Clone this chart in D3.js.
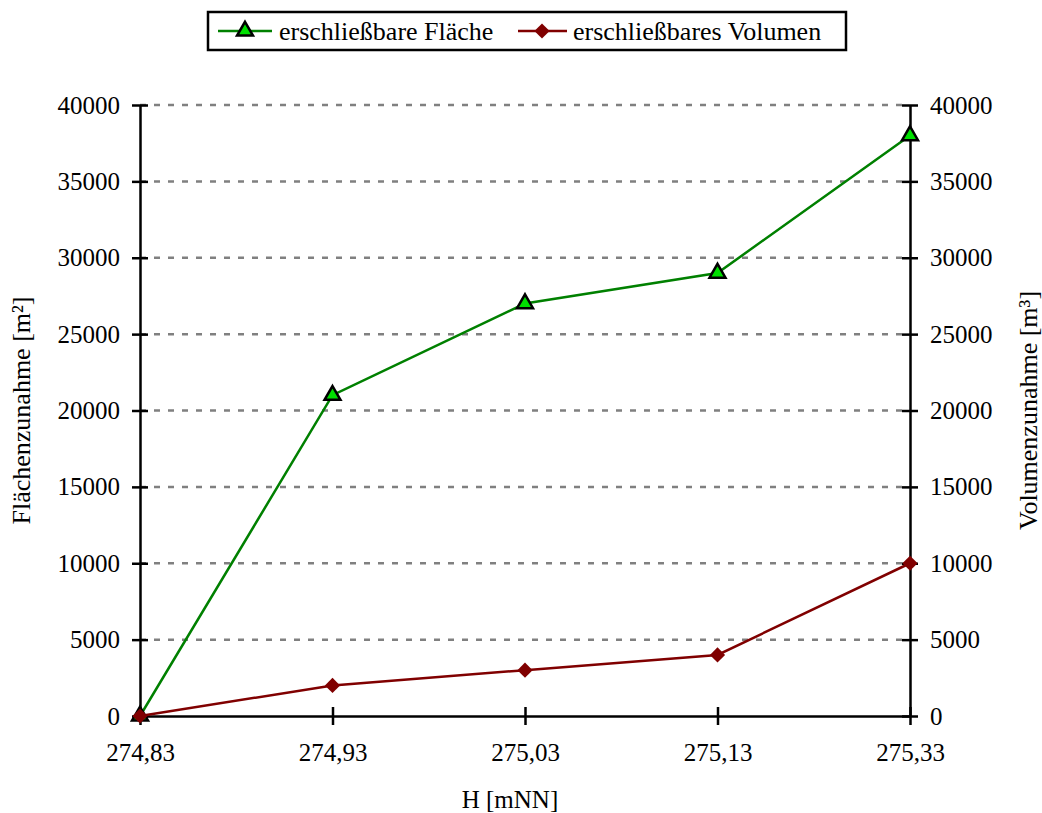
<!DOCTYPE html>
<html>
<head>
<meta charset="utf-8">
<script src="https://cdn.jsdelivr.net/npm/d3@7"></script>
<style>
  body { margin: 0; background: #fff; }
  svg text { font-family: "Liberation Serif", "Times New Roman", serif !important; fill: #000; }
</style>
</head>
<body>
<div id="chart"></div>
<script>
// data
var heights = ["274,83", "274,93", "275,03", "275,13", "275,33"];
var flaeche = [0, 21000, 27000, 29000, 38000];
var volumen = [0, 2000, 3000, 4000, 10000];
var yTicks = [0, 5000, 10000, 15000, 20000, 25000, 30000, 35000, 40000];

var svgWidth = 1042;
var svgHeight = 813;

var margin = { top: 105, right: 132, bottom: 97, left: 140 };
var chartWidth = svgWidth - margin.left - margin.right;
var chartHeight = svgHeight - margin.top - margin.bottom;

var svg = d3.select("#chart")
  .append("svg")
  .attr("width", svgWidth)
  .attr("height", svgHeight);

var chartGroup = svg.append("g")
  .attr("transform", `translate(${margin.left}, ${margin.top})`);

// scales
var xScale = d3.scalePoint()
  .domain(heights)
  .range([0, chartWidth]);

var yLeft = d3.scaleLinear().domain([0, 40000]).range([chartHeight, 0]);
var yRight = d3.scaleLinear().domain([0, 40000]).range([chartHeight, 0]);

// grid lines
chartGroup.selectAll(".grid")
  .data(yTicks.filter(d => d > 0))
  .enter()
  .append("line")
  .attr("x1", 0)
  .attr("x2", chartWidth)
  .attr("y1", d => yLeft(d))
  .attr("y2", d => yLeft(d))
  .attr("stroke", "#808080")
  .attr("stroke-width", 2.5)
  .attr("stroke-dasharray", "6,8");

// axes
function styleAxis(g) {
  g.attr("font-family", "Liberation Serif").attr("font-size", 25);
  g.select(".domain").attr("stroke", "#000").attr("stroke-width", 2.5);
  g.selectAll(".tick line").attr("stroke", "#000").attr("stroke-width", 2.5);
  g.selectAll(".tick text")
    .style("font-family", "'Liberation Serif', serif")
    .style("font-size", "25px");
}

var leftAxis = chartGroup.append("g")
  .call(d3.axisLeft(yLeft).tickValues(yTicks).tickSize(8).tickSizeOuter(0).tickPadding(12).tickFormat(d3.format("d")))
  .call(styleAxis);
leftAxis.selectAll(".tick line").attr("x2", 8).attr("x1", -8);

var rightAxis = chartGroup.append("g")
  .attr("transform", `translate(${chartWidth}, 0)`)
  .call(d3.axisRight(yRight).tickValues(yTicks).tickSize(8).tickSizeOuter(0).tickPadding(12).tickFormat(d3.format("d")))
  .call(styleAxis);
rightAxis.selectAll(".tick line").attr("x1", -8).attr("x2", 8);

var bottomAxis = chartGroup.append("g")
  .attr("transform", `translate(0, ${chartHeight})`)
  .call(d3.axisBottom(xScale).tickSize(9).tickSizeOuter(0).tickPadding(18))
  .call(styleAxis);
bottomAxis.selectAll(".tick line").attr("y1", -9).attr("y2", 9);

// lines
var lineF = d3.line()
  .x((d, i) => xScale(heights[i]))
  .y(d => yLeft(d));

var lineV = d3.line()
  .x((d, i) => xScale(heights[i]))
  .y(d => yRight(d));

chartGroup.append("path")
  .datum(flaeche)
  .attr("d", lineF)
  .attr("fill", "none")
  .attr("stroke", "#008000")
  .attr("stroke-width", 2.5);

chartGroup.append("path")
  .datum(volumen)
  .attr("d", lineV)
  .attr("fill", "none")
  .attr("stroke", "#800000")
  .attr("stroke-width", 2.5);

// markers
var triangle = d3.symbol().type(d3.symbolTriangle).size(110);
var diamond = d3.symbol().type(d3.symbolSquare).size(115);

chartGroup.selectAll(".triF")
  .data(flaeche)
  .enter()
  .append("path")
  .attr("d", triangle)
  .attr("transform", (d, i) => `translate(${xScale(heights[i])}, ${yLeft(d)})`)
  .attr("fill", "#00e000")
  .attr("stroke", "#000")
  .attr("stroke-width", 2.5);

chartGroup.selectAll(".diaV")
  .data(volumen)
  .enter()
  .append("path")
  .attr("d", diamond)
  .attr("transform", (d, i) => `translate(${xScale(heights[i])}, ${yRight(d)}) rotate(45)`)
  .attr("fill", "#800000");

// axis titles
svg.append("text")
  .attr("transform", `translate(30, ${margin.top + chartHeight / 2}) rotate(-90)`)
  .attr("text-anchor", "middle")
  .style("font-size", "26px")
  .text("Flächenzunahme [m²]");

svg.append("text")
  .attr("transform", `translate(1037, ${margin.top + chartHeight / 2}) rotate(-90)`)
  .attr("text-anchor", "middle")
  .style("font-size", "26px")
  .text("Volumenzunahme [m³]");

svg.append("text")
  .attr("x", margin.left + chartWidth / 2 - 15)
  .attr("y", 808)
  .attr("text-anchor", "middle")
  .style("font-size", "25px")
  .text("H [mNN]");

// legend
var legend = svg.append("g");
legend.append("rect")
  .attr("x", 208).attr("y", 12)
  .attr("width", 638).attr("height", 38)
  .attr("fill", "#fff")
  .attr("stroke", "#000")
  .attr("stroke-width", 2.5);

legend.append("line")
  .attr("x1", 218).attr("x2", 272).attr("y1", 31).attr("y2", 31)
  .attr("stroke", "#008000").attr("stroke-width", 2.5);
legend.append("path")
  .attr("d", triangle)
  .attr("transform", "translate(245, 31)")
  .attr("fill", "#00e000").attr("stroke", "#000").attr("stroke-width", 2.5);
legend.append("text")
  .attr("x", 279).attr("y", 40)
  .style("font-size", "26px")
  .text("erschließbare Fläche");

legend.append("line")
  .attr("x1", 518).attr("x2", 567).attr("y1", 31).attr("y2", 31)
  .attr("stroke", "#800000").attr("stroke-width", 2.5);
legend.append("path")
  .attr("d", diamond)
  .attr("transform", "translate(542, 31) rotate(45)")
  .attr("fill", "#800000");
legend.append("text")
  .attr("x", 573).attr("y", 40)
  .style("font-size", "26px")
  .text("erschließbares Volumen");
</script>
</body>
</html>
